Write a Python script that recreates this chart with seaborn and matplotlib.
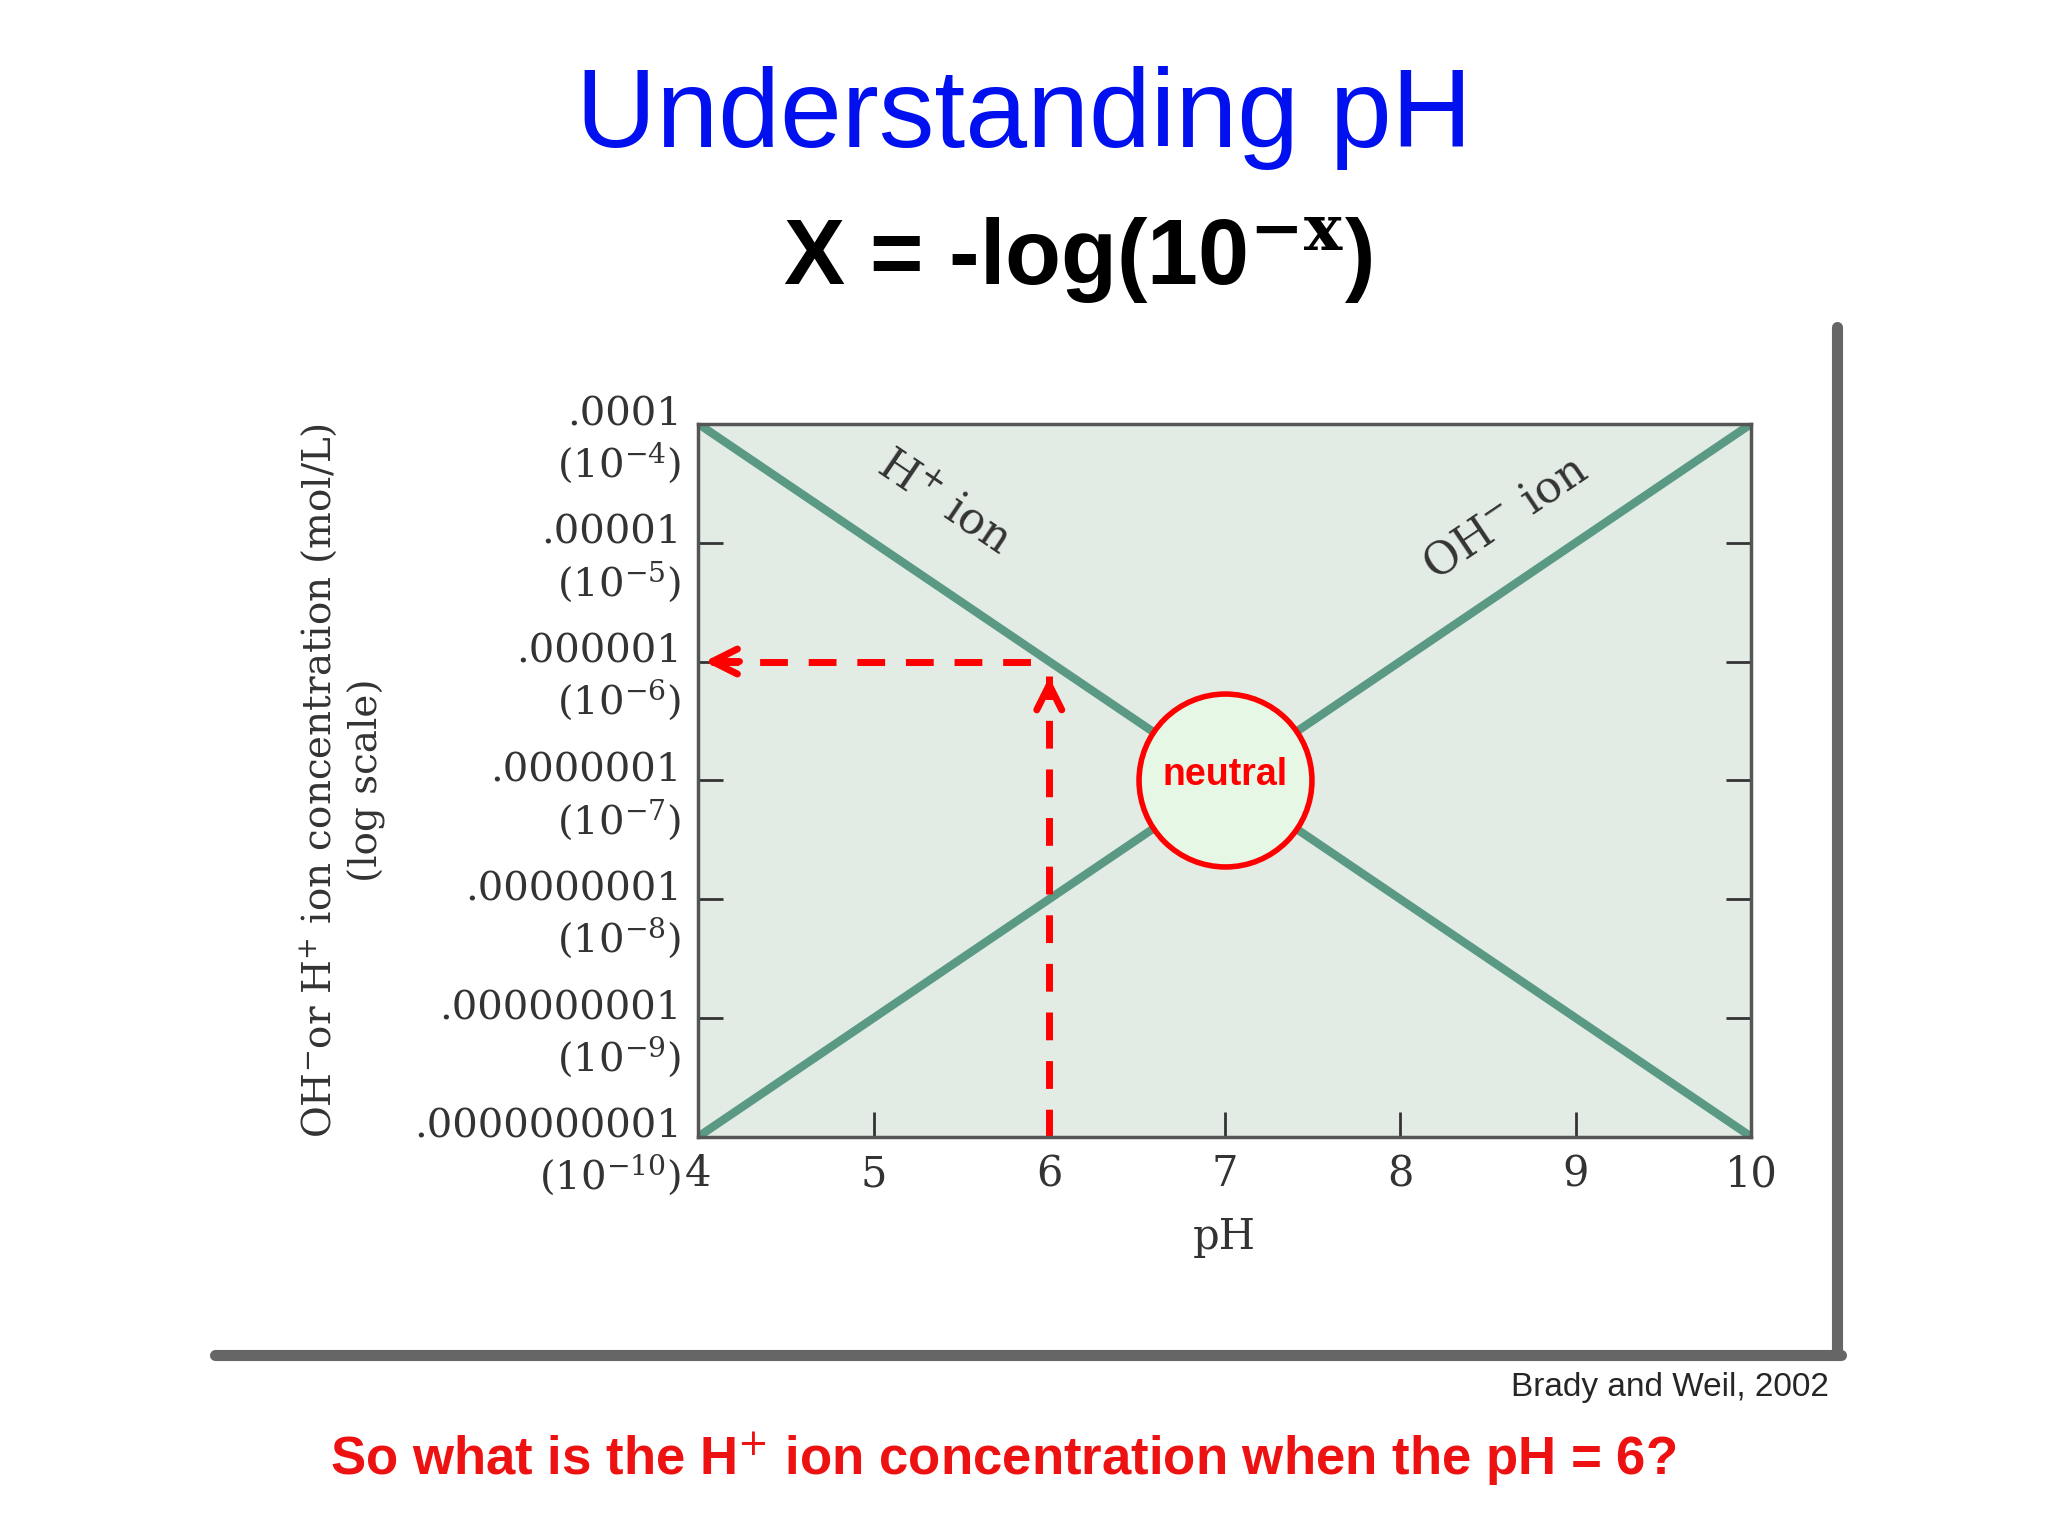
import matplotlib
matplotlib.use("Agg")
import matplotlib.pyplot as plt
import matplotlib.transforms as mtransforms
import seaborn as sns
import pandas as pd
import numpy as np

ph = [4, 5, 6, 7, 8, 9, 10]
h_conc = [1e-4, 1e-5, 1e-6, 1e-7, 1e-8, 1e-9, 1e-10]
oh_conc = [1e-10, 1e-9, 1e-8, 1e-7, 1e-6, 1e-5, 1e-4]
ytick_vals = [1e-10, 1e-9, 1e-8, 1e-7, 1e-6, 1e-5, 1e-4]
ytick_labels = [".0000000001\n(10$^{-10}$)", ".000000001\n(10$^{-9}$)", ".00000001\n(10$^{-8}$)",
                ".0000001\n(10$^{-7}$)", ".000001\n(10$^{-6}$)", ".00001\n(10$^{-5}$)", ".0001\n(10$^{-4}$)"]
query_ph = 6
query_conc = 1e-6

sns.set_theme(style="white")
plt.rcParams['font.family'] = ['Liberation Sans', 'DejaVu Sans']
plt.rcParams['mathtext.fontset'] = 'dejavuserif'

fig = plt.figure(figsize=(20.48, 15.36), dpi=100)
ax = fig.add_axes([0.341, 0.260, 0.514, 0.464])
ax.set_facecolor("#e3ebe5")
df = pd.DataFrame({"pH": ph * 2, "c": h_conc + oh_conc, "ion": ["H"] * 7 + ["OH"] * 7})
sns.lineplot(data=df, x="pH", y="c", hue="ion", palette=["#5a9a84", "#5a9a84"], lw=6, legend=False, ax=ax)
ax.set_yscale("log")
ax.set_xlim(4, 10)
ax.set_ylim(1e-10, 1e-4)
ax.set_yticks(ytick_vals)
ax.set_yticklabels(ytick_labels, family="DejaVu Serif", fontsize=29, color="#333333")
ax.minorticks_off()
ax.set_xticks(ph)
ax.set_xticklabels([str(p) for p in ph], family="DejaVu Serif", fontsize=30, color="#333333")
ax.tick_params(direction="in", length=18, width=2, left=True, bottom=True, right=True,
               color="#333333", pad=12)
off = mtransforms.ScaledTranslation(0, 20 / 72, fig.dpi_scale_trans)
for lab in ax.get_yticklabels():
    lab.set_verticalalignment("top")
    lab.set_transform(lab.get_transform() + off)
for s in ax.spines.values():
    s.set_color("#555555"); s.set_linewidth(2.5)
ax.set_xlabel("pH", family="DejaVu Serif", fontsize=30, color="#333333", labelpad=15)
ax.set_ylabel("OH$^{-}$or H$^{+}$ ion concentration (mol/L)\n(log scale)", family="DejaVu Serif",
              fontsize=28, color="#333333", labelpad=20, linespacing=1.3)

ax.text(5.4, 2.2e-5, "H$^{+}$ ion", rotation=-34, family="DejaVu Serif", fontsize=32, ha="center", va="center", color="#333333")
ax.text(8.6, 1.6e-5, "OH$^{-}$ ion", rotation=34, family="DejaVu Serif", fontsize=32, ha="center", va="center", color="#333333")

# dashed guide lines
ax.plot([query_ph, query_ph], [1e-10, query_conc * 0.75], color="red", lw=5, ls=(0, (4, 3)))
ax.plot([4.07, query_ph], [query_conc, query_conc], color="red", lw=5, ls=(0, (4, 3)))
ax.annotate("", xy=(query_ph, query_conc * 0.78), xytext=(query_ph, query_conc * 0.5),
            arrowprops=dict(arrowstyle="->", color="red", lw=5, mutation_scale=45))
ax.annotate("", xy=(4.02, query_conc), xytext=(4.25, query_conc),
            arrowprops=dict(arrowstyle="->", color="red", lw=5, mutation_scale=45))
ax.scatter([7], [1e-7], s=15500, facecolor="#e6f7e6", edgecolor="red", linewidth=4, zorder=5)
ax.text(7, 1e-7 * 1.1, "neutral", color="red", fontweight="bold", fontsize=27, ha="center", va="center", zorder=6)

# shadow frame
fig.add_artist(plt.Line2D([0.897, 0.897], [0.12, 0.787], color="#666666", lw=8))
fig.add_artist(plt.Line2D([0.105, 0.899], [0.118, 0.118], color="#666666", lw=8))

fig.text(0.5, 0.923, "Understanding pH", color="#0010ee", fontsize=80, ha="center", va="center")
fig.text(0.526, 0.83, r"X = -log(10$^{\mathbf{-x}}$)", color="black", fontsize=66, fontweight="bold", ha="center", va="center")
fig.text(0.893, 0.097, "Brady and Weil, 2002", fontsize=24, ha="right", va="center")
fig.text(0.49, 0.05, "So what is the H$^{+}$ ion concentration when the pH = 6?", color="#ee1111",
         fontsize=38, fontweight="bold", ha="center", va="center")
fig.savefig("out.png", dpi=100)
